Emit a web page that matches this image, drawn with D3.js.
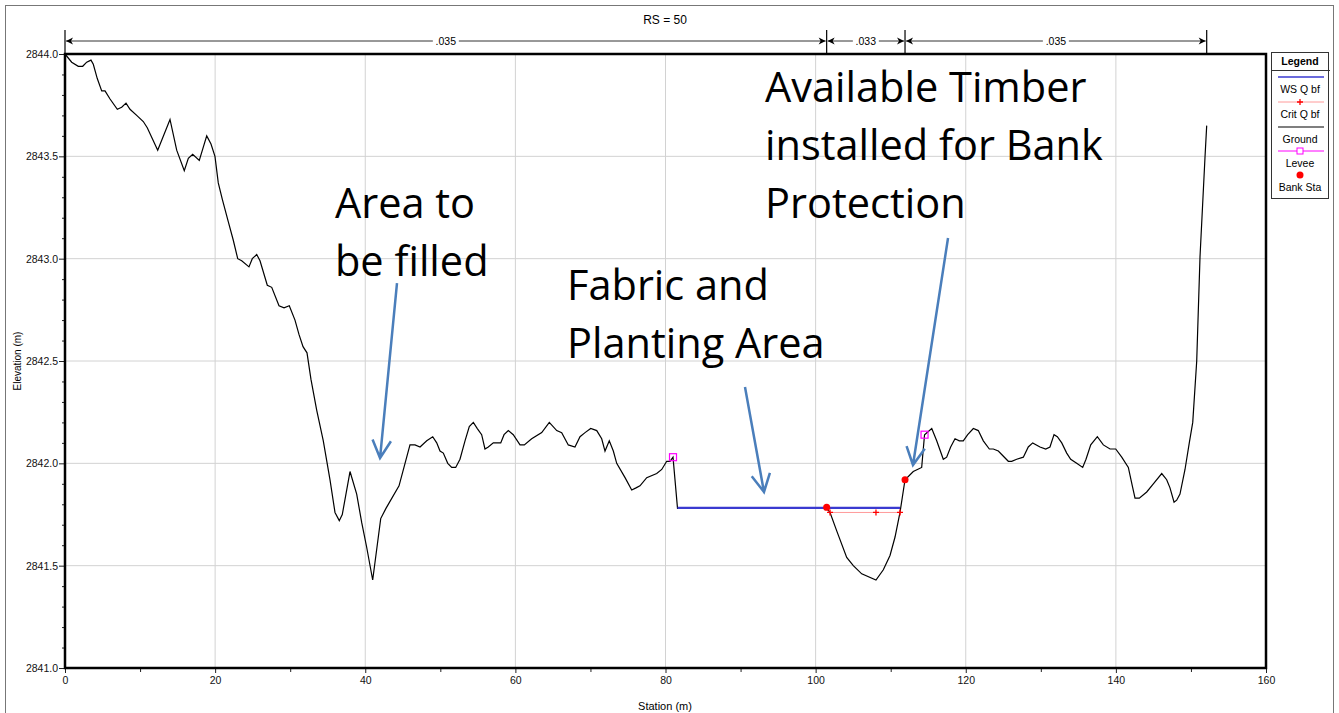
<!DOCTYPE html>
<html>
<head>
<meta charset="utf-8">
<script src="https://cdn.jsdelivr.net/npm/d3@7"></script>
<style>
  body { margin: 0; background: #fff; }
  text { font-family: "Liberation Sans Narrow", "Arial Narrow", "Liberation Sans", Arial, sans-serif; }
</style>
</head>
<body>
<div id="chart"></div>
<script>
// ground profile: [station (m), elevation (m)]
const ground = [
  [0, 2844.00], [0.89, 2843.96], [1.77, 2843.94], [2.36, 2843.94], [2.89, 2843.96], [3.46, 2843.97],
  [3.77, 2843.95], [4.30, 2843.88], [4.89, 2843.82], [5.33, 2843.82], [6.00, 2843.78], [6.97, 2843.73],
  [7.55, 2843.74], [8.13, 2843.76], [8.66, 2843.73], [9.55, 2843.70], [10.43, 2843.67], [10.96, 2843.64],
  [12.35, 2843.53], [13.99, 2843.68], [14.88, 2843.53], [15.89, 2843.43], [16.43, 2843.49], [17.01, 2843.51],
  [17.89, 2843.48], [18.88, 2843.60], [19.45, 2843.56], [19.98, 2843.50], [20.42, 2843.37], [20.96, 2843.29],
  [21.76, 2843.18], [22.42, 2843.09], [23.01, 2843.00], [23.54, 2842.99], [24.51, 2842.96], [24.95, 2843.00],
  [25.54, 2843.02], [25.98, 2842.99], [26.95, 2842.87], [27.54, 2842.86], [28.51, 2842.77], [29.18, 2842.76],
  [29.88, 2842.77], [30.64, 2842.70], [31.17, 2842.63], [31.71, 2842.57], [32.24, 2842.54], [32.77, 2842.41],
  [33.53, 2842.26], [34.41, 2842.11], [35.30, 2841.92], [35.97, 2841.76], [36.54, 2841.72], [36.94, 2841.75],
  [37.97, 2841.96], [38.86, 2841.85], [39.53, 2841.71], [40.19, 2841.59], [40.99, 2841.43], [42.06, 2841.73],
  [42.76, 2841.78], [44.50, 2841.89], [45.30, 2842.00], [45.96, 2842.09], [46.63, 2842.09], [47.30, 2842.08],
  [48.19, 2842.11], [48.99, 2842.13], [49.52, 2842.10], [49.96, 2842.06], [50.40, 2842.05], [50.99, 2842.00],
  [51.52, 2841.98], [52.05, 2841.98], [52.62, 2842.02], [53.29, 2842.11], [53.86, 2842.18], [54.40, 2842.20],
  [54.93, 2842.17], [55.51, 2842.14], [55.95, 2842.07], [56.39, 2842.08], [57.06, 2842.10], [58.05, 2842.10],
  [58.49, 2842.14], [59.06, 2842.16], [59.72, 2842.14], [60.62, 2842.09], [61.19, 2842.09], [62.17, 2842.12],
  [63.51, 2842.15], [64.52, 2842.20], [65.51, 2842.16], [66.17, 2842.15], [67.05, 2842.09], [67.94, 2842.08],
  [68.61, 2842.13], [69.28, 2842.15], [70.04, 2842.17], [70.84, 2842.16], [71.50, 2842.12], [71.94, 2842.06],
  [72.51, 2842.11], [73.05, 2842.06], [73.50, 2842.00], [74.61, 2841.93], [75.50, 2841.87], [76.07, 2841.88],
  [76.60, 2841.89], [77.50, 2841.93], [78.83, 2841.95], [79.50, 2841.97], [80.16, 2842.01], [80.60, 2842.01],
  [81.00, 2842.03], [81.60, 2841.78], [101.47, 2841.78], [101.92, 2841.76], [102.81, 2841.67], [104.14, 2841.54],
  [105.02, 2841.50], [106.14, 2841.46], [108.04, 2841.43], [109.02, 2841.48], [109.91, 2841.55], [110.58, 2841.64],
  [111.24, 2841.76], [111.91, 2841.92], [113.01, 2841.96], [114.13, 2841.98], [114.51, 2842.14], [115.47, 2842.17],
  [116.13, 2842.11], [117.01, 2842.02], [117.46, 2842.03], [117.99, 2842.08], [118.57, 2842.12], [119.14, 2842.11],
  [119.67, 2842.11], [120.26, 2842.14], [121.01, 2842.17], [121.67, 2842.16], [122.34, 2842.11], [123.14, 2842.07],
  [123.67, 2842.07], [124.34, 2842.06], [125.67, 2842.01], [126.12, 2842.01], [126.79, 2842.02], [127.67, 2842.03],
  [128.33, 2842.08], [128.92, 2842.10], [129.89, 2842.08], [130.65, 2842.07], [131.22, 2842.08], [131.76, 2842.14],
  [132.20, 2842.13], [132.79, 2842.10], [133.45, 2842.05], [133.98, 2842.02], [134.78, 2842.00], [135.58, 2841.98],
  [136.02, 2842.02], [136.65, 2842.09], [137.53, 2842.13], [138.33, 2842.09], [139.22, 2842.07], [139.98, 2842.07],
  [140.78, 2842.03], [141.66, 2841.98], [142.19, 2841.89], [142.55, 2841.83], [143.12, 2841.83], [144.11, 2841.86],
  [144.99, 2841.90], [146.11, 2841.95], [146.77, 2841.92], [147.21, 2841.88], [147.75, 2841.81], [148.10, 2841.82],
  [148.54, 2841.85], [149.21, 2841.97], [149.78, 2842.10], [150.24, 2842.20], [150.77, 2842.50], [151.21, 2843.01],
  [151.88, 2843.50], [152.10, 2843.65]
];

const wsStations = [81.6, 111.24];
const wsElev = 2841.782;
const critStations = [101.92, 108.04, 111.24];
const critElev = 2841.76;
const leveeStations = [81.0, 114.51];
const leveeElevs = [2842.03, 2842.14];
const bankStations = [101.47, 111.91];
const bankElevs = [2841.785, 2841.92];

const nBreaks = [0, 101.47, 111.91, 152.1];
const nValues = [".035", ".033", ".035"];

const xTicks = [0, 20, 40, 60, 80, 100, 120, 140, 160];
const yTicks = [2841.0, 2841.5, 2842.0, 2842.5, 2843.0, 2843.5, 2844.0];

const legendItems = ["WS Q bf", "Crit Q bf", "Ground", "Levee", "Bank Sta"];

// annotation text: [station, elevation of first baseline, lines]
const notes = [
  { s: 35.97, e: 2843.199, lines: ["Area to", "be filled"] },
  { s: 66.88, e: 2842.798, lines: ["Fabric and", "Planting Area"] },
  { s: 93.26, e: 2843.765, lines: ["Available Timber", "installed for Bank", "Protection"] }
];
// arrows: from [station, elev] to [station, elev]
const arrows = [
  [[44.23, 2842.881], [41.97, 2842.026]],
  [[90.59, 2842.373], [93.12, 2841.860]],
  [[117.64, 2843.101], [112.97, 2841.992]]
];

const largura = 1339, altura = 713;
const margem = { top: 54, right: 73, bottom: 45, left: 65 };

const svg = d3.select("#chart").append("svg")
  .attr("width", largura)
  .attr("height", altura);

// moldura externa
svg.append("rect")
  .attr("x", 5.5).attr("y", 5.5)
  .attr("width", 1328).attr("height", 730)
  .attr("fill", "none").attr("stroke", "#777");

const x = d3.scaleLinear().domain([0, 160]).range([margem.left, largura - margem.right]);
const y = d3.scaleLinear().domain([2841, 2844]).range([altura - margem.bottom, margem.top]);

// grade
svg.append("g").selectAll("line").data(xTicks.slice(1, -1)).enter().append("line")
  .attr("x1", d => x(d)).attr("x2", d => x(d))
  .attr("y1", y(2844)).attr("y2", y(2841))
  .attr("stroke", "#d2d2d2");
svg.append("g").selectAll("line").data(yTicks.slice(1, -1)).enter().append("line")
  .attr("x1", x(0)).attr("x2", x(160))
  .attr("y1", d => y(d)).attr("y2", d => y(d))
  .attr("stroke", "#d2d2d2");

// eixos
svg.append("g")
  .attr("transform", `translate(0,${y(2841)})`)
  .call(d3.axisBottom(x).tickValues(xTicks).tickSize(5).tickPadding(4).tickFormat(d3.format("d")));
svg.append("g")
  .attr("transform", `translate(0,${y(2841)})`)
  .call(d3.axisBottom(x).tickValues(d3.range(10, 160, 20)).tickSize(4).tickFormat(""));
svg.append("g")
  .attr("transform", `translate(${x(0)},0)`)
  .call(d3.axisLeft(y).tickValues(yTicks).tickSize(6).tickPadding(1).tickFormat(d3.format(".1f")));
svg.append("g")
  .attr("transform", `translate(${x(0)},0)`)
  .call(d3.axisLeft(y).tickValues(d3.range(2841.1, 2844, 0.1).filter(v => Math.abs(v * 2 - Math.round(v * 2)) > 0.01)).tickSize(3).tickFormat(""));
svg.selectAll(".domain").remove();
svg.selectAll(".tick line").attr("stroke", "#222");
svg.selectAll(".tick text").style("font-size", "10.5px").attr("fill", "#111")
  .style("font-family", "'Liberation Sans Narrow', 'Arial Narrow', sans-serif");

// moldura do gráfico
svg.append("rect")
  .attr("x", x(0)).attr("y", y(2844))
  .attr("width", x(160) - x(0)).attr("height", y(2841) - y(2844))
  .attr("fill", "none").attr("stroke", "#000").attr("stroke-width", 2.5);

// títulos
svg.append("text")
  .attr("x", 665).attr("y", 24)
  .attr("text-anchor", "middle")
  .style("font-family", "'Liberation Sans', Arial, sans-serif")
  .style("font-size", "12px")
  .text("RS = 50");
svg.append("text")
  .attr("x", 665).attr("y", 710)
  .attr("text-anchor", "middle")
  .style("font-size", "11px")
  .text("Station (m)");
svg.append("text")
  .attr("transform", `translate(21,${(y(2841) + y(2844)) / 2}) rotate(-90)`)
  .attr("text-anchor", "middle")
  .style("font-family", "'Liberation Sans', Arial, sans-serif")
  .style("font-size", "10px")
  .text("Elevation (m)");

// Manning n
const nY = 41;
const seta = (g, px, py, dir) => {
  g.append("path")
    .attr("d", `M${px},${py} l${-dir * 7},-3.5 l${dir * 2},3.5 l${-dir * 2},3.5 Z`)
    .attr("fill", "#000");
};
const nG = svg.append("g");
nBreaks.forEach(b => {
  nG.append("line")
    .attr("x1", x(b)).attr("x2", x(b))
    .attr("y1", 30).attr("y2", y(2844))
    .attr("stroke", "#000").attr("stroke-width", 1.2);
});
nValues.forEach((v, i) => {
  const a = x(nBreaks[i]) + 1, b = x(nBreaks[i + 1]) - 1;
  const meio = (a + b) / 2;
  nG.append("line")
    .attr("x1", a).attr("x2", b).attr("y1", nY).attr("y2", nY)
    .attr("stroke", "#333");
  seta(nG, a, nY, -1);
  seta(nG, b, nY, 1);
  nG.append("rect")
    .attr("x", meio - 13).attr("y", nY - 6)
    .attr("width", 26).attr("height", 12)
    .attr("fill", "#fff");
  nG.append("text")
    .attr("x", meio).attr("y", nY + 4)
    .attr("text-anchor", "middle")
    .style("font-size", "10.5px")
    .text(v);
});

// ground
const linha = d3.line().x(d => x(d[0])).y(d => y(d[1]));
svg.append("path")
  .datum(ground)
  .attr("d", linha)
  .attr("fill", "none")
  .attr("stroke", "#000")
  .attr("stroke-width", 1.2);

// crit
svg.append("line")
  .attr("x1", x(critStations[0])).attr("x2", x(critStations[critStations.length - 1]))
  .attr("y1", y(critElev)).attr("y2", y(critElev))
  .attr("stroke", "#ff9a9a").attr("stroke-width", 1);
svg.append("g").selectAll("path").data(critStations).enter().append("path")
  .attr("d", d => `M${x(d) - 3},${y(critElev)}h6M${x(d)},${y(critElev) - 3}v6`)
  .attr("stroke", "#ff0000").attr("stroke-width", 1.3);

// WS
svg.append("line")
  .attr("x1", x(wsStations[0])).attr("x2", x(wsStations[1]))
  .attr("y1", y(wsElev)).attr("y2", y(wsElev))
  .attr("stroke", "#3a3ad0").attr("stroke-width", 2.2);

// levee
svg.append("g").selectAll("rect").data(leveeStations).enter().append("rect")
  .attr("x", (d, i) => x(d) - 3.5).attr("y", (d, i) => y(leveeElevs[i]) - 3.5)
  .attr("width", 7).attr("height", 7)
  .attr("fill", "none").attr("stroke", "#ff00ff").attr("stroke-width", 1.2);

// bank sta
svg.append("g").selectAll("circle").data(bankStations).enter().append("circle")
  .attr("cx", d => x(d)).attr("cy", (d, i) => y(bankElevs[i]))
  .attr("r", 3.5).attr("fill", "#ff0000");

// legenda
const lg = svg.append("g");
lg.append("rect").attr("x", 1271.5).attr("y", 52.5).attr("width", 57).attr("height", 146)
  .attr("fill", "#fff").attr("stroke", "#333");
lg.append("line").attr("x1", 1271.5).attr("x2", 1330).attr("y1", 70.5).attr("y2", 70.5).attr("stroke", "#333");
lg.append("text").attr("x", 1300).attr("y", 65).attr("text-anchor", "middle")
  .style("font-size", "10.5px").style("font-weight", "bold").text("Legend");
const lx1 = 1278, lx2 = 1324, lc = 1300;
const ly = [77, 102, 127, 151, 175];
lg.append("line").attr("x1", lx1).attr("x2", lx2).attr("y1", ly[0]).attr("y2", ly[0]).attr("stroke", "#3a3ad0").attr("stroke-width", 1.5);
lg.append("line").attr("x1", lx1).attr("x2", lx2).attr("y1", ly[1]).attr("y2", ly[1]).attr("stroke", "#ff9a9a");
lg.append("path").attr("d", `M${lc - 3},${ly[1]}h6M${lc},${ly[1] - 3}v6`).attr("stroke", "#ff0000").attr("stroke-width", 1.3);
lg.append("line").attr("x1", lx1).attr("x2", lx2).attr("y1", ly[2]).attr("y2", ly[2]).attr("stroke", "#000").attr("stroke-width", 1.2);
lg.append("line").attr("x1", lx1).attr("x2", lx2).attr("y1", ly[3]).attr("y2", ly[3]).attr("stroke", "#ff00ff");
lg.append("rect").attr("x", lc - 3).attr("y", ly[3] - 3).attr("width", 6).attr("height", 6).attr("fill", "#fff").attr("stroke", "#ff00ff");
lg.append("circle").attr("cx", lc).attr("cy", ly[4]).attr("r", 3.5).attr("fill", "#ff0000");
legendItems.forEach((t, i) => {
  lg.append("text").attr("x", lc).attr("y", ly[i] + 16).attr("text-anchor", "middle")
    .style("font-size", "10.5px").text(t);
});

// anotações
const anot = svg.append("g");
notes.forEach(n => {
  const t = anot.append("text")
    .attr("x", x(n.s)).attr("y", y(n.e))
    .style("font-family", "'Open Sans', 'Noto Sans', sans-serif")
    .style("font-size", "41.5px")
    .attr("fill", "#000");
  n.lines.forEach((l, i) => {
    t.append("tspan").attr("x", x(n.s)).attr("dy", i === 0 ? 0 : 58).text(l);
  });
});
arrows.forEach(([p0, p1]) => {
  const x0 = x(p0[0]), y0 = y(p0[1]), x1 = x(p1[0]), y1 = y(p1[1]);
  const ang = Math.atan2(y1 - y0, x1 - x0);
  const L = 20, abre = 0.48;
  const w1 = [x1 - L * Math.cos(ang - abre), y1 - L * Math.sin(ang - abre)];
  const w2 = [x1 - L * Math.cos(ang + abre), y1 - L * Math.sin(ang + abre)];
  anot.append("path")
    .attr("d", `M${x0},${y0}L${x1},${y1}M${w1[0]},${w1[1]}L${x1},${y1}L${w2[0]},${w2[1]}`)
    .attr("fill", "none")
    .attr("stroke", "#4a7ebb")
    .attr("stroke-width", 2.5);
});
</script>
</body>
</html>
